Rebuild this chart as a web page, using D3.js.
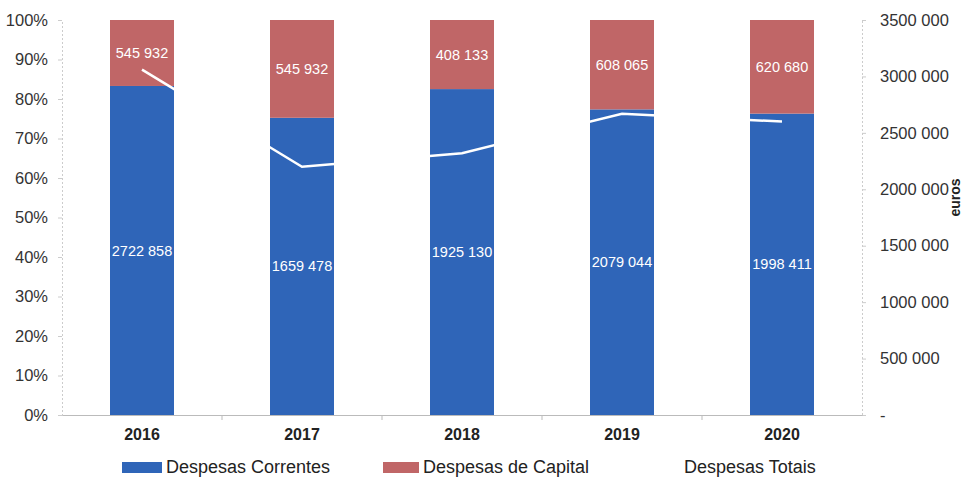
<!DOCTYPE html>
<html lang="pt">
<head>
<meta charset="UTF-8">
<title>Despesas</title>
<script src="https://d3js.org/d3.v7.min.js"></script>
<style>
  body { margin: 0; background: #fff; }
  svg text { font-family: "Liberation Sans", Arial, sans-serif; }
  .tick text { fill: #333; font-size: 16.5px; }
</style>
</head>
<body>
<svg id="chart" width="976" height="477"></svg>
<script>
// data
const years = ['2016', '2017', '2018', '2019', '2020'];
const correntes = [2722858, 1659478, 1925130, 2079044, 1998411];
const capital = [545932, 545932, 408133, 608065, 620680];
const totais = [3060000, 2200000, 2320000, 2670000, 2600000];
const pctTicks = [0, 0.1, 0.2, 0.3, 0.4, 0.5, 0.6, 0.7, 0.8, 0.9, 1];
const euroTicks = [0, 500000, 1000000, 1500000, 2000000, 2500000, 3000000, 3500000];

const margin = { top: 20, right: 114, bottom: 62, left: 62 };
const width = 976 - margin.left - margin.right;
const height = 477 - margin.top - margin.bottom;

const blue = '#2f65b8';
const red = '#c06667';

// only the last group of three is separated ("2722 858")
const loc = d3.formatLocale({ decimal: ',', thousands: ' ', grouping: [3, 99], currency: ['', ' €'] });
const fmt = loc.format(',.0f');

const svg = d3.select('#chart')
  .append('g')
  .attr('transform', `translate(${margin.left},${margin.top})`);

const x = d3.scaleBand().domain(years).range([0, width]).paddingInner(0.6).paddingOuter(0.3);
const xCenter = d3.scaleBand().domain(years).range([0, width]);
const yPct = d3.scaleLinear().domain([0, 1]).range([height, 0]);
const yEur = d3.scaleLinear().domain([0, 3500000]).range([height, 0]);

// axes
const leftAxis = svg.append('g')
  .call(d3.axisLeft(yPct).tickValues(pctTicks).tickFormat(d3.format('.0%')).tickSize(4).tickPadding(10));
leftAxis.select('.domain').attr('stroke', '#ccc').attr('stroke-dasharray', '2,2');
leftAxis.selectAll('.tick line').attr('stroke', '#ccc');

const rightAxis = svg.append('g')
  .attr('transform', `translate(${width},0)`)
  .call(d3.axisRight(yEur).tickValues(euroTicks).tickFormat(d => d === 0 ? '-' : fmt(d)).tickSize(4).tickPadding(14));
rightAxis.select('.domain').attr('stroke', '#ccc').attr('stroke-dasharray', '2,2');
rightAxis.selectAll('.tick line').attr('stroke', '#ccc');

const bottom = svg.append('g')
  .attr('transform', `translate(0,${height})`)
  .call(d3.axisBottom(xCenter).tickSize(0).tickPadding(14));
bottom.select('.domain').attr('stroke', '#bbb');
bottom.selectAll('.tick text').style('font-weight', 'bold').style('fill', '#222').style('font-size', '16px');
// category separators
bottom.selectAll('.sep')
  .data(years.slice(1))
  .enter().append('line')
  .attr('x1', d => xCenter(d)).attr('x2', d => xCenter(d))
  .attr('y1', 0).attr('y2', 5)
  .attr('stroke', '#bbb');

// stacked 100% bars
const rows = years.map((y, i) => {
  const t = correntes[i] + capital[i];
  return { year: y, cor: correntes[i], cap: capital[i], pc: correntes[i] / t };
});

const g = svg.selectAll('.bar').data(rows).enter().append('g');

g.append('rect')
  .attr('x', d => x(d.year))
  .attr('width', x.bandwidth())
  .attr('y', d => yPct(d.pc))
  .attr('height', d => height - yPct(d.pc))
  .attr('fill', blue);

g.append('rect')
  .attr('x', d => x(d.year))
  .attr('width', x.bandwidth())
  .attr('y', yPct(1))
  .attr('height', d => yPct(d.pc) - yPct(1))
  .attr('fill', red);

g.append('text')
  .attr('x', d => x(d.year) + x.bandwidth() / 2)
  .attr('y', d => (yPct(d.pc) + height) / 2)
  .attr('dy', '0.35em')
  .attr('text-anchor', 'middle')
  .attr('fill', '#fff')
  .style('font-size', '14.5px')
  .text(d => fmt(d.cor));

g.append('text')
  .attr('x', d => x(d.year) + x.bandwidth() / 2)
  .attr('y', d => (yPct(d.pc) + yPct(1)) / 2)
  .attr('dy', '0.35em')
  .attr('text-anchor', 'middle')
  .attr('fill', '#fff')
  .style('font-size', '14.5px')
  .text(d => fmt(d.cap));

// total line
const line = d3.line()
  .x((d, i) => x(years[i]) + x.bandwidth() / 2)
  .y(d => yEur(d));

svg.append('path')
  .datum(totais)
  .attr('d', line)
  .attr('fill', 'none')
  .attr('stroke', '#fff')
  .attr('stroke-width', 2.5);

// axis title
svg.append('text')
  .attr('transform', `translate(${width + 98},${height / 2 - 20}) rotate(-90)`)
  .attr('text-anchor', 'middle')
  .style('font-size', '14px')
  .style('font-weight', 'bold')
  .attr('fill', '#222')
  .text('euros');

// legend
const legend = svg.append('g').attr('transform', `translate(0,${height + 52})`);
const items = [
  { label: 'Despesas Correntes', color: blue, x: 60, w: 40, type: 'rect' },
  { label: 'Despesas de Capital', color: red, x: 321, w: 36, type: 'rect' },
  { label: 'Despesas Totais', color: '#fff', x: 588, w: 30, type: 'line' }
];
items.forEach(it => {
  const li = legend.append('g').attr('transform', `translate(${it.x},0)`);
  if (it.type === 'rect') {
    li.append('rect').attr('x', 0).attr('y', -5).attr('width', it.w).attr('height', 11).attr('fill', it.color);
  } else {
    li.append('line').attr('x1', 0).attr('x2', it.w).attr('y1', 0).attr('y2', 0)
      .attr('stroke', it.color).attr('stroke-width', 2.5);
  }
  li.append('text')
    .attr('x', it.w + 4)
    .attr('dy', '0.35em')
    .style('font-size', '18px')
    .attr('fill', '#222')
    .text(it.label);
});
</script>
</body>
</html>
